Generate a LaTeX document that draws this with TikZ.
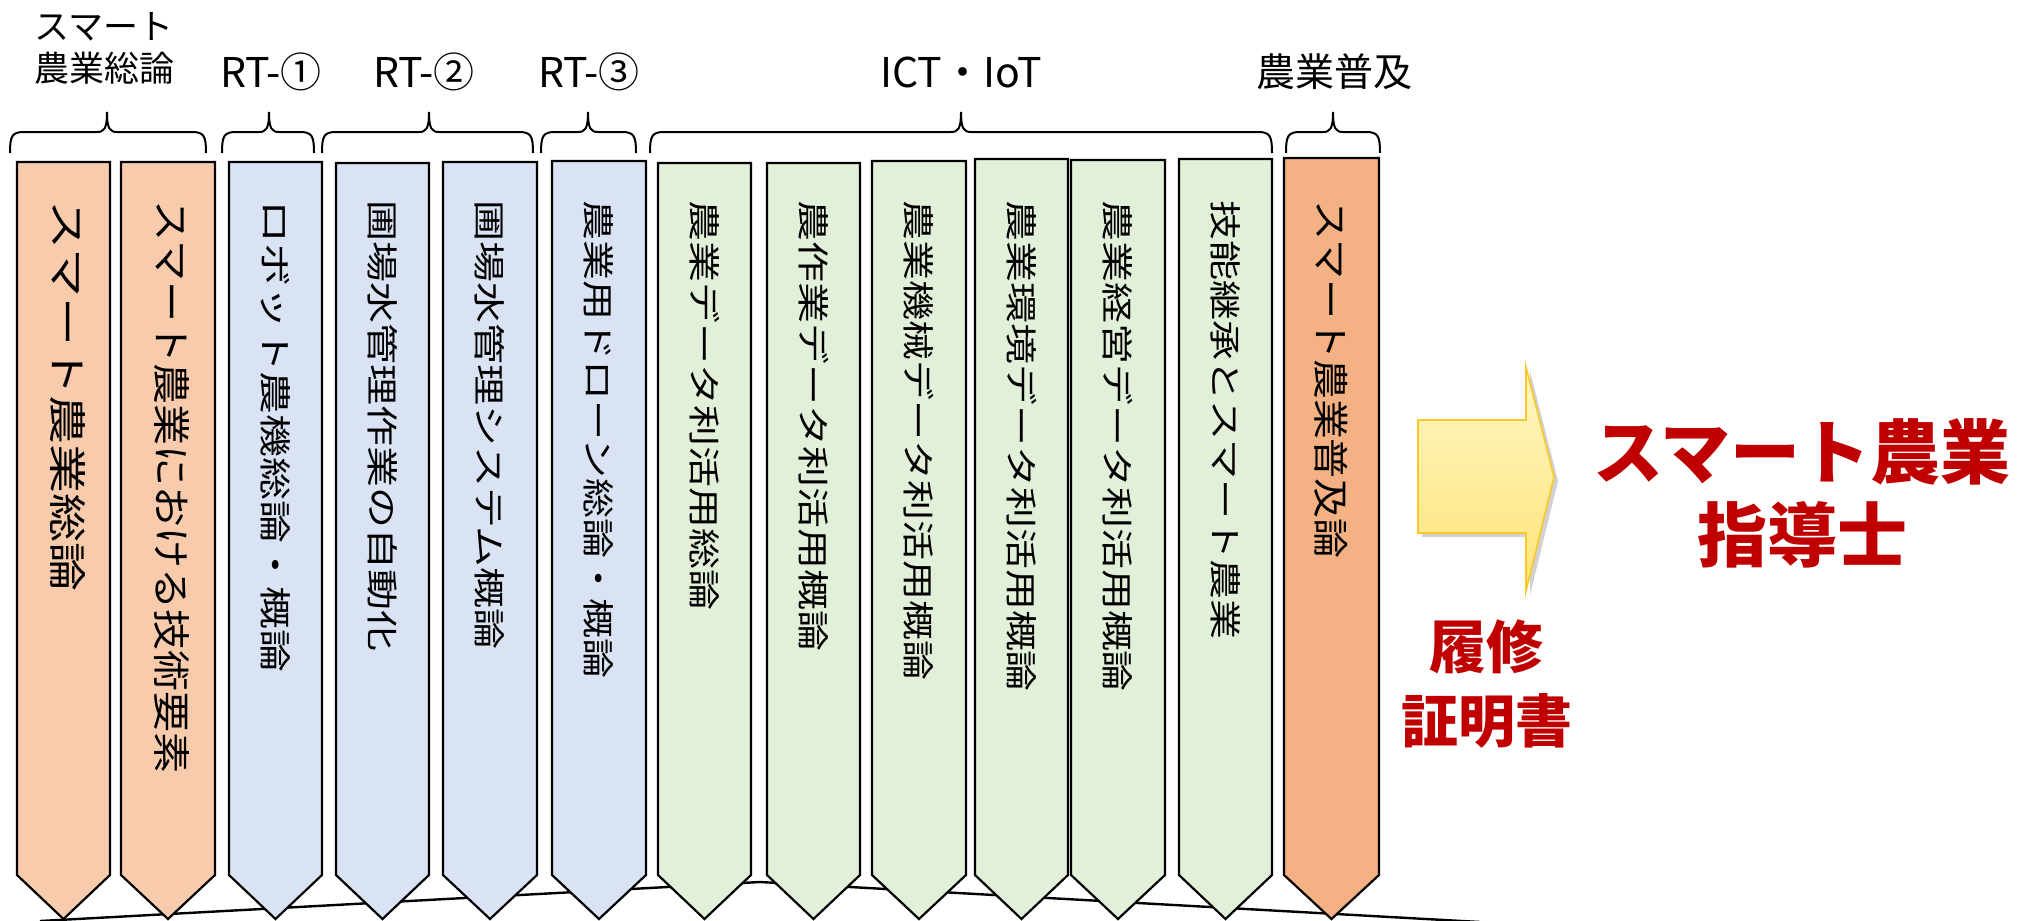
\documentclass[tikz,border=0pt]{standalone}
\usepackage{fontspec}
\setmainfont{Noto Sans CJK JP}
\usetikzlibrary{shadows}
\definecolor{lorange}{RGB}{248,203,173}
\definecolor{dorange}{RGB}{244,177,131}
\definecolor{lblue}{RGB}{218,227,243}
\definecolor{lgreen}{RGB}{226,240,217}
\definecolor{darkred}{RGB}{192,0,0}
\definecolor{arrtop}{RGB}{255,246,196}
\definecolor{arrbot}{RGB}{255,228,120}
\definecolor{arrline}{RGB}{250,200,40}
\tikzset{
  colbox/.style={draw=black,line width=1.1pt,line join=miter},
  coltext/.style={rotate=-90,inner sep=0pt,text=black},
  brk/.style={draw=black,line width=1pt},
  toplabel/.style={inner sep=0pt,font=\fontsize{17.5}{20}\selectfont},
  latlabel/.style={inner sep=0pt,font=\fontsize{20.5}{22}\selectfont},
  redbig/.style={inner sep=0pt,text=darkred,font=\bfseries\fontsize{35}{36}\selectfont},
  redmid/.style={inner sep=0pt,text=darkred,font=\bfseries\fontsize{28.5}{30}\selectfont},
  roof/.style={draw=black,line width=1.2pt}
}
\newcommand\kcol[9]{%
  \draw[colbox,fill=#5] (#2,#4) -- (#3,#4) -- (#3,875) -- ({(#2+#3)/2},919) -- (#2,875) -- cycle;
  \node[coltext,anchor=west] (#1) at ({(#2+#3)/2+#9},200) {\fontsize{#6}{#6}\selectfont\scalebox{#7}[1]{#8}};
}
\newcommand\bkt[3]{%
  \draw[brk] (#1,153) .. controls (#1,136) and (#1+2,132) .. (#1+14,132) -- (#3-10,132)
    .. controls (#3-3,132) and (#3,129) .. (#3,112)
    .. controls (#3,129) and (#3+3,132) .. (#3+10,132) -- (#2-14,132)
    .. controls (#2-2,132) and (#2,136) .. (#2,153);
}
\begin{document}
\begin{tikzpicture}[x=0.5pt,y=-0.5pt]
\useasboundingbox (0,0) rectangle (2036,921);
\fill[white] (0,0) rectangle (2036,921);

% roof line behind the columns
\coordinate (roofL) at (40,921);
\coordinate (roofT) at (760,882);
\coordinate (roofR) at (1480,922);
\draw[roof] (roofL) -- (roofT) -- (roofR);

% columns
\kcol{c1}{17}{110}{162}{lorange}{19}{1.29}{スマート農業総論}{4}
\kcol{c2}{121}{215}{162}{lorange}{19}{1.08}{スマート農業における技術要素}{4}
\kcol{c3}{229}{322}{162}{lblue}{16}{1.34}{ロボット農機総論・概論}{0}
\kcol{c4}{336}{429}{163}{lblue}{16}{1.28}{圃場水管理作業の自動化}{0}
\kcol{c5}{443}{537}{162}{lblue}{16}{1.28}{圃場水管理システム概論}{0}
\kcol{c6}{552}{646}{161}{lblue}{16}{1.25}{農業用ドローン総論・概論}{0}
\kcol{c7}{658}{751}{163}{lgreen}{16}{1.28}{農業データ利活用総論}{0}
\kcol{c8}{767}{860}{163}{lgreen}{16}{1.28}{農作業データ利活用概論}{0}
\kcol{c9}{872}{966}{161}{lgreen}{16}{1.25}{農業機械データ利活用概論}{0}
\kcol{c10}{975}{1068}{159}{lgreen}{16}{1.28}{農業環境データ利活用概論}{0}
\kcol{c11}{1071}{1165}{160}{lgreen}{16}{1.28}{農業経営データ利活用概論}{0}
\kcol{c12}{1179}{1272}{159}{lgreen}{16}{1.25}{技能継承とスマート農業}{0}
\kcol{c13}{1284}{1379}{158}{dorange}{18}{1.11}{スマート農業普及論}{0}

% braces
\bkt{10}{206}{107}
\bkt{222}{314}{269}
\bkt{322}{533}{429}
\bkt{541}{636}{588}
\bkt{650}{1272}{961}
\bkt{1286}{1380}{1333}

% top labels
\node[toplabel] (g1a) at (104,27) {スマート};
\node[toplabel] (g1b) at (104,68) {農業総論};
\node[latlabel] (g2) at (271,72) {RT-①};
\node[latlabel] (g3) at (424,72) {RT-②};
\node[latlabel] (g4) at (589,72) {RT-③};
\node[latlabel] (g5) at (961,72) {ICT・IoT};
\node[toplabel,font=\fontsize{19.5}{21}\selectfont] (g6) at (1334,72) {農業普及};

% arrow
\path[draw=arrline,line width=0.8pt,top color=arrtop,bottom color=arrbot,
  drop shadow={shadow xshift=2pt,shadow yshift=-2pt,fill=black!40,opacity=0.45}]
  (1418,420) -- (1526,420) -- (1526,367) -- (1554,477) -- (1526,591) -- (1526,533) -- (1418,533) -- cycle;

% red texts
\node[redbig] (t1) at (1802,452) {スマート農業};
\node[redbig] (t2) at (1802,535) {指導士};
\node[redmid] (t3) at (1486,647) {履修};
\node[redmid] (t4) at (1487,721) {証明書};
\end{tikzpicture}
\end{document}
